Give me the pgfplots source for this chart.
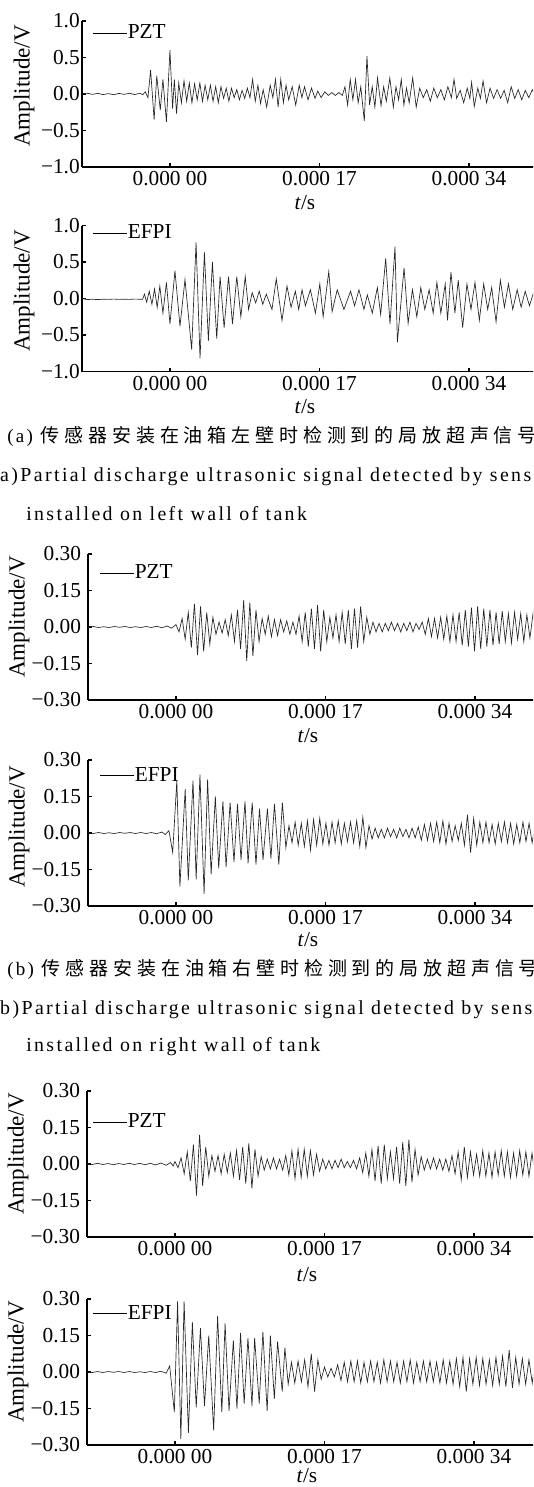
\documentclass[border=0pt]{standalone}
\usepackage{pgfplots}
\pgfplotsset{compat=1.18}
\usepackage{pgfplotstable}
\usepackage{fontspec}
\setmainfont{Liberation Serif}
\newfontfamily\capfont[LetterSpace=12]{Liberation Serif}
\newfontfamily\cjk[LetterSpace=25.5]{Noto Sans CJK SC}
\newcommand\fs{\fontsize{16}{18}\selectfont}
\newcommand\lfs{\fontsize{17.3}{19}\selectfont}
\newcommand\cfs{\fontsize{14.25}{16}\selectfont}
\newcommand\efs{\fontsize{14.9}{16}\selectfont}

% PZT (a)
\pgfplotstableread[row sep=\\]{x y\\
-100 0\\ -94 0.01\\ -88 -0.005\\ -82 0.008\\ -76 -0.008\\ -70 0.005\\ -64 -0.01\\ -58 0.008\\ -52 -0.005\\ -46 0.01\\ -40 -0.008\\ -34 0.01\\ -31 -0.01\\ -28 0.03\\ -25 -0.05\\ -22 0.33\\ -18 -0.35\\ -15 0.25\\ -11 -0.22\\ -8 0.2\\ -4 -0.38\\ 0 0.6\\ 3 -0.2\\ 5 0.2\\ 7.5 -0.27\\ 10 0.15\\ 13 -0.12\\ 16 0.18\\ 19 -0.1\\ 22 0.15\\ 25 -0.12\\ 28 0.14\\ 31 -0.08\\ 34 0.15\\ 37 -0.1\\ 40 0.12\\ 43 -0.08\\ 46 0.12\\ 49 -0.1\\ 52 0.1\\ 55 -0.12\\ 58 0.1\\ 61 -0.06\\ 64 0.08\\ 67 -0.1\\ 70 0.08\\ 73 -0.05\\ 76 0.06\\ 79 -0.08\\ 82 0.05\\ 85 -0.06\\ 88 0.08\\ 91 -0.05\\ 94 0.2\\ 97 -0.1\\ 100 0.12\\ 103 -0.13\\ 106 0.06\\ 110 -0.18\\ 114 0.12\\ 117 -0.05\\ 120 0.2\\ 123 -0.18\\ 126 0.2\\ 129 -0.12\\ 132 0.12\\ 135 -0.08\\ 139 0.1\\ 143 -0.15\\ 147 0.12\\ 150 -0.05\\ 153 0.1\\ 157 -0.08\\ 161 0.08\\ 165 -0.06\\ 168 0.04\\ 172 -0.05\\ 176 0.03\\ 180 -0.02\\ 184 0.02\\ 188 -0.02\\ 192 0.02\\ 196 -0.02\\ 199 0.1\\ 202 -0.15\\ 205 0.2\\ 208 -0.08\\ 211 0.2\\ 214 -0.12\\ 217 0.1\\ 221 -0.37\\ 224 0.52\\ 227 -0.15\\ 230 0.1\\ 233 -0.18\\ 236 0.22\\ 240 -0.16\\ 243 0.1\\ 246 -0.1\\ 250 0.22\\ 254 -0.18\\ 257 0.1\\ 260 -0.08\\ 263 0.2\\ 266 -0.15\\ 269 0.08\\ 272 -0.12\\ 276 0.22\\ 280 -0.18\\ 284 0.08\\ 288 -0.05\\ 292 0.06\\ 296 -0.1\\ 300 0.08\\ 304 -0.05\\ 308 0.06\\ 312 -0.08\\ 316 0.1\\ 320 -0.05\\ 323 0.2\\ 326 -0.06\\ 330 0.05\\ 334 -0.12\\ 338 0.08\\ 341 -0.06\\ 343 0.16\\ 346 -0.17\\ 350 0.08\\ 353 -0.06\\ 356 0.18\\ 360 -0.12\\ 364 0.08\\ 368 -0.06\\ 372 0.06\\ 376 -0.06\\ 380 0.05\\ 384 -0.12\\ 388 0.1\\ 392 -0.06\\ 396 0.06\\ 400 -0.08\\ 404 0.05\\ 408 -0.05\\ 412 0.06\\ 416 -0.04\\ 420 0.05\\
}\dA

% EFPI (a)
\pgfplotstableread[row sep=\\]{x y\\
-100 0\\ -94 -0.015\\ -88 -0.01\\ -82 -0.015\\ -76 -0.01\\ -70 -0.012\\ -64 -0.008\\ -58 -0.012\\ -52 -0.01\\ -46 -0.012\\ -40 -0.008\\ -34 -0.01\\ -31 -0.01\\ -29 0.06\\ -26.5 -0.05\\ -23.5 0.1\\ -20.5 -0.08\\ -17.5 0.13\\ -14.5 -0.12\\ -11.5 0.17\\ -8 -0.2\\ -4 0.22\\ 0 -0.35\\ 5.7 0.38\\ 11.4 -0.38\\ 17.1 0.26\\ 24.7 -0.7\\ 29.7 0.77\\ 34.2 -0.82\\ 39.2 0.63\\ 43.7 -0.58\\ 48.3 0.5\\ 53.2 -0.55\\ 57 0.3\\ 61.6 -0.4\\ 66.6 0.3\\ 71.1 -0.35\\ 76 0.3\\ 80.6 -0.25\\ 85.6 0.3\\ 89.4 -0.15\\ 93.5 0.08\\ 97.5 -0.06\\ 101.5 0.1\\ 105.5 -0.08\\ 109.5 0.06\\ 116 -0.15\\ 120.9 0.27\\ 127.4 -0.3\\ 133.1 0.17\\ 137.7 -0.12\\ 142.6 0.1\\ 146.4 -0.15\\ 150.2 0.12\\ 154 -0.1\\ 159.7 0.12\\ 165.4 -0.2\\ 170.4 0.2\\ 174.2 -0.25\\ 180.6 0.37\\ 184.4 -0.18\\ 190.2 0.12\\ 197.8 -0.15\\ 205.4 0.1\\ 209.9 -0.1\\ 214.9 0.12\\ 220.6 -0.15\\ 224.4 0.05\\ 230.1 -0.2\\ 235.8 0.15\\ 239.6 -0.22\\ 245.3 0.55\\ 250.2 -0.35\\ 255.9 0.71\\ 258.6 -0.6\\ 266.2 0.42\\ 270.8 -0.34\\ 275.7 0.12\\ 280.7 -0.25\\ 285.2 0.15\\ 289.8 -0.15\\ 294.7 0.12\\ 299.3 -0.2\\ 303.5 0.22\\ 308 -0.2\\ 313 0.2\\ 315.6 -0.3\\ 319.5 0.36\\ 324 -0.2\\ 327.8 0.25\\ 332.8 -0.4\\ 337.7 0.2\\ 342.3 -0.15\\ 346.8 0.22\\ 351.8 -0.3\\ 356.7 0.2\\ 361.3 -0.15\\ 365.8 0.15\\ 370.8 -0.32\\ 375.7 0.25\\ 380.3 -0.12\\ 384.9 0.2\\ 389.8 -0.15\\ 394.8 0.12\\ 399.3 -0.12\\ 403.9 0.1\\ 408.8 -0.1\\ 413.4 0.08\\ 418 -0.05\\
}\dB

% PZT (b)
\pgfplotstableread[row sep=\\]{x y\\
-100 0\\ -94 0.002\\ -88 -0.002\\ -82 0.001\\ -76 -0.002\\ -70 0.002\\ -64 -0.001\\ -58 0.002\\ -52 -0.002\\ -46 0.001\\ -40 -0.002\\ -34 0.002\\ -28 -0.002\\ -22 0.003\\ -16 -0.003\\ -10 0.004\\ -5 -0.005\\ 0 0.01\\ 3.5 -0.02\\ 7 0.035\\ 10.5 -0.05\\ 14 0.06\\ 17.5 -0.085\\ 21 0.095\\ 24.5 -0.115\\ 28 0.085\\ 31.5 -0.1\\ 35 0.06\\ 38.5 -0.07\\ 42 0.04\\ 45.5 -0.03\\ 49 0.02\\ 52.5 -0.025\\ 56 0.03\\ 59.5 -0.035\\ 63 0.05\\ 66.5 -0.06\\ 70 0.07\\ 73.5 -0.09\\ 77 0.11\\ 80.5 -0.14\\ 84 0.1\\ 87.5 -0.12\\ 91 0.07\\ 94.5 -0.06\\ 98 0.035\\ 101.5 -0.03\\ 105 0.045\\ 108.5 -0.04\\ 112 0.03\\ 115.5 -0.035\\ 119 0.03\\ 122.5 -0.02\\ 126 0.025\\ 129.5 -0.03\\ 133 0.02\\ 136.5 -0.03\\ 140 0.045\\ 143.5 -0.06\\ 147 0.06\\ 150.5 -0.08\\ 154 0.075\\ 157.5 -0.09\\ 161 0.09\\ 164.5 -0.1\\ 168 0.07\\ 171.5 -0.06\\ 175 0.04\\ 178.5 -0.045\\ 182 0.05\\ 185.5 -0.06\\ 189 0.06\\ 192.5 -0.07\\ 196 0.07\\ 199.5 -0.09\\ 203 0.075\\ 206.5 -0.085\\ 210 0.085\\ 213.5 -0.06\\ 217 0.04\\ 220.5 -0.03\\ 224 0.02\\ 227.5 -0.02\\ 231 0.015\\ 234.5 -0.02\\ 238 0.015\\ 241.5 -0.015\\ 245 0.02\\ 248.5 -0.015\\ 252 0.015\\ 255.5 -0.02\\ 259 0.015\\ 262.5 -0.015\\ 266 0.02\\ 269.5 -0.02\\ 273 0.015\\ 276.5 -0.01\\ 280 0.02\\ 283.5 -0.03\\ 287 0.035\\ 290.5 -0.04\\ 294 0.035\\ 297.5 -0.045\\ 301 0.04\\ 304.5 -0.05\\ 308 0.045\\ 311.5 -0.06\\ 315 0.05\\ 318.5 -0.06\\ 322 0.06\\ 325.5 -0.075\\ 329 0.07\\ 332.5 -0.08\\ 336 0.08\\ 339.5 -0.1\\ 343 0.085\\ 346.5 -0.09\\ 350 0.075\\ 353.5 -0.08\\ 357 0.07\\ 360.5 -0.075\\ 364 0.06\\ 367.5 -0.07\\ 371 0.065\\ 374.5 -0.06\\ 378 0.055\\ 381.5 -0.065\\ 385 0.06\\ 388.5 -0.05\\ 392 0.055\\ 395.5 -0.06\\ 399 0.05\\ 402.5 -0.045\\ 406 0.055\\ 409.5 -0.05\\ 413 0.045\\ 416.5 -0.05\\ 420 0.04\\
}\dC

% EFPI (b)
\pgfplotstableread[row sep=\\]{x y\\
-100 0\\ -94 -0.002\\ -88 0.002\\ -82 -0.002\\ -76 0.001\\ -70 -0.002\\ -64 0.002\\ -58 -0.001\\ -52 0.002\\ -46 -0.002\\ -40 0.002\\ -34 -0.002\\ -28 0.002\\ -22 -0.003\\ -16 0.004\\ -12 -0.006\\ -8 0.01\\ -3.7 -0.08\\ 1 0.215\\ 4.5 -0.22\\ 10.5 0.18\\ 14 -0.195\\ 19.4 0.215\\ 23 -0.19\\ 27.3 0.24\\ 32 -0.25\\ 36 0.22\\ 40 -0.17\\ 44.8 0.15\\ 48.6 -0.145\\ 53.4 0.13\\ 57 -0.14\\ 61.6 0.125\\ 66 -0.12\\ 70 0.12\\ 74 -0.11\\ 78.5 0.13\\ 82 -0.125\\ 86.7 0.125\\ 91 -0.13\\ 95 0.1\\ 99 -0.11\\ 104 0.1\\ 108 -0.105\\ 112 0.12\\ 117 -0.13\\ 121 0.125\\ 125 -0.06\\ 128.5 0.03\\ 132 -0.04\\ 135.5 0.045\\ 139 -0.05\\ 142.5 0.04\\ 146 -0.055\\ 149.5 0.05\\ 153 -0.07\\ 156.5 0.055\\ 160 -0.05\\ 163.5 0.06\\ 167 -0.045\\ 170.5 0.04\\ 174 -0.05\\ 177.5 0.045\\ 181 -0.04\\ 184.5 0.05\\ 188 -0.045\\ 191.5 0.04\\ 195 -0.035\\ 198.5 0.045\\ 202 -0.04\\ 205.5 0.05\\ 209 -0.055\\ 212.5 0.065\\ 216 -0.06\\ 219.5 0.03\\ 223 -0.025\\ 226.5 0.02\\ 230 -0.02\\ 233.5 0.015\\ 237 -0.02\\ 240.5 0.02\\ 244 -0.015\\ 247.5 0.015\\ 251 -0.02\\ 254.5 0.02\\ 258 -0.015\\ 261.5 0.015\\ 265 -0.02\\ 268.5 0.02\\ 272 -0.02\\ 275.5 0.025\\ 279 -0.03\\ 282.5 0.035\\ 286 -0.03\\ 289.5 0.04\\ 293 -0.035\\ 296.5 0.045\\ 300 -0.04\\ 303.5 0.05\\ 307 -0.045\\ 310.5 0.04\\ 314 -0.035\\ 317.5 0.03\\ 321 -0.03\\ 324.5 0.04\\ 328 -0.05\\ 331.5 0.075\\ 335 -0.08\\ 338.5 0.06\\ 342 -0.05\\ 345.5 0.045\\ 349 -0.04\\ 352.5 0.045\\ 356 -0.04\\ 359.5 0.035\\ 363 -0.045\\ 366.5 0.04\\ 370 -0.035\\ 373.5 0.045\\ 377 -0.04\\ 380.5 0.04\\ 384 -0.045\\ 387.5 0.035\\ 391 -0.04\\ 394.5 0.045\\ 398 -0.035\\ 401.5 0.04\\ 405 -0.04\\ 408.5 0.035\\ 412 -0.04\\ 415.5 0.04\\ 419 -0.035\\
}\dD

% PZT (c)
\pgfplotstableread[row sep=\\]{x y\\
-100 0\\ -94 -0.002\\ -88 0.003\\ -82 -0.002\\ -76 0.002\\ -70 -0.003\\ -64 0.002\\ -58 -0.002\\ -52 0.003\\ -46 -0.002\\ -40 0.003\\ -34 -0.003\\ -28 0.003\\ -22 -0.004\\ -16 0.004\\ -10 -0.005\\ -5 0.006\\ -2 -0.008\\ 0 0.01\\ 3.5 -0.015\\ 7 0.025\\ 10.5 -0.04\\ 14 0.05\\ 17.5 -0.07\\ 21 0.08\\ 24.5 -0.13\\ 28 0.12\\ 31.5 -0.09\\ 35 0.07\\ 38.5 -0.05\\ 42 0.035\\ 45.5 -0.03\\ 49 0.035\\ 52.5 -0.04\\ 56 0.04\\ 59.5 -0.035\\ 63 0.045\\ 66.5 -0.05\\ 70 0.055\\ 73.5 -0.065\\ 77 0.07\\ 80.5 -0.08\\ 84 0.085\\ 87.5 -0.1\\ 91 0.06\\ 94.5 -0.05\\ 98 0.03\\ 101.5 -0.025\\ 105 0.02\\ 108.5 -0.02\\ 112 0.025\\ 115.5 -0.02\\ 119 0.02\\ 122.5 -0.025\\ 126 0.035\\ 129.5 -0.045\\ 133 0.055\\ 136.5 -0.06\\ 140 0.06\\ 143.5 -0.055\\ 147 0.06\\ 150.5 -0.05\\ 154 0.055\\ 157.5 -0.045\\ 161 0.04\\ 164.5 -0.03\\ 168 0.02\\ 171.5 -0.02\\ 175 0.015\\ 178.5 -0.02\\ 182 0.015\\ 185.5 -0.015\\ 189 0.02\\ 192.5 -0.015\\ 196 0.01\\ 199.5 -0.015\\ 203 0.015\\ 206.5 -0.02\\ 210 0.025\\ 213.5 -0.035\\ 217 0.045\\ 220.5 -0.05\\ 224 0.06\\ 227.5 -0.07\\ 231 0.075\\ 234.5 -0.08\\ 238 0.08\\ 241.5 -0.06\\ 245 0.05\\ 248.5 -0.06\\ 252 0.07\\ 255.5 -0.08\\ 259 0.09\\ 262.5 -0.09\\ 266 0.1\\ 269.5 -0.075\\ 273 0.06\\ 276.5 -0.045\\ 280 0.03\\ 283.5 -0.025\\ 287 0.02\\ 290.5 -0.02\\ 294 0.025\\ 297.5 -0.02\\ 301 0.02\\ 304.5 -0.025\\ 308 0.02\\ 311.5 -0.03\\ 315 0.035\\ 318.5 -0.04\\ 322 0.05\\ 325.5 -0.065\\ 329 0.07\\ 332.5 -0.055\\ 336 0.05\\ 339.5 -0.045\\ 343 0.04\\ 346.5 -0.05\\ 350 0.055\\ 353.5 -0.05\\ 357 0.045\\ 360.5 -0.055\\ 364 0.05\\ 367.5 -0.045\\ 371 0.055\\ 374.5 -0.05\\ 378 0.05\\ 381.5 -0.055\\ 385 0.045\\ 388.5 -0.05\\ 392 0.055\\ 395.5 -0.045\\ 399 0.05\\ 402.5 -0.05\\ 406 0.045\\ 409.5 -0.05\\ 413 0.05\\ 416.5 -0.045\\ 420 0.04\\
}\dE

% EFPI (c)
\pgfplotstableread[row sep=\\]{x y\\
-100 0\\ -94 -0.002\\ -88 0.002\\ -82 -0.002\\ -76 0.002\\ -70 -0.001\\ -64 0.002\\ -58 -0.002\\ -52 0.002\\ -46 -0.002\\ -40 0.001\\ -34 -0.002\\ -28 0.002\\ -22 -0.002\\ -16 0.003\\ -10 -0.005\\ -6 0.025\\ -0.7 -0.165\\ 3 0.29\\ 6.7 -0.275\\ 10.4 0.29\\ 15.3 -0.25\\ 19.8 0.205\\ 24.2 -0.145\\ 29 0.18\\ 33.6 -0.14\\ 38.4 0.15\\ 44 -0.24\\ 48.5 0.23\\ 53.3 -0.165\\ 57 0.2\\ 61.5 -0.16\\ 66.4 0.13\\ 70.5 -0.15\\ 74.6 0.16\\ 78.7 -0.13\\ 83 0.14\\ 87.6 -0.14\\ 90.6 0.14\\ 95.8 -0.13\\ 100 0.165\\ 104.8 -0.16\\ 108.5 0.15\\ 113 -0.11\\ 116.7 0.125\\ 122 -0.08\\ 125 0.1\\ 128.75 -0.05\\ 132.5 0.04\\ 136.25 -0.045\\ 140 0.045\\ 143.75 -0.04\\ 147.5 0.05\\ 151.25 -0.06\\ 155 0.075\\ 158.75 -0.08\\ 162.5 0.05\\ 166.25 -0.03\\ 170 0.02\\ 173.75 -0.02\\ 177.5 0.015\\ 181.25 -0.02\\ 185 0.03\\ 188.75 -0.035\\ 192.5 0.04\\ 196.25 -0.04\\ 200 0.045\\ 203.75 -0.04\\ 207.5 0.045\\ 211.25 -0.045\\ 215 0.04\\ 218.75 -0.04\\ 222.5 0.045\\ 226.25 -0.04\\ 230 0.04\\ 233.75 -0.045\\ 237.5 0.05\\ 241.25 -0.04\\ 245 0.045\\ 248.75 -0.04\\ 252.5 0.04\\ 256.25 -0.045\\ 260 0.045\\ 263.75 -0.04\\ 267.5 0.05\\ 271.25 -0.045\\ 275 0.04\\ 278.75 -0.04\\ 282.5 0.045\\ 286.25 -0.04\\ 290 0.045\\ 293.75 -0.04\\ 297.5 0.04\\ 301.25 -0.045\\ 305 0.05\\ 308.75 -0.045\\ 312.5 0.045\\ 316.25 -0.05\\ 320 0.055\\ 323.75 -0.06\\ 327.5 0.06\\ 331.25 -0.08\\ 335 0.055\\ 338.75 -0.05\\ 342.5 0.06\\ 346.25 -0.055\\ 350 0.055\\ 353.75 -0.05\\ 357.5 0.05\\ 361.25 -0.055\\ 365 0.06\\ 368.75 -0.05\\ 372.5 0.065\\ 376.25 -0.06\\ 380 0.09\\ 383.75 -0.065\\ 387.5 0.06\\ 391.25 -0.05\\ 395 0.055\\ 398.75 -0.05\\ 402.5 0.05\\ 406.25 -0.045\\ 410 0.05\\ 413.75 -0.05\\ 417.5 0.045\\ 421.25 -0.04\\
}\dF

\pgfplotsset{
  sig/.style={
    scale only axis, width=343pt, height=109.5pt,
    xmin=-100, xmax=420,
    axis x line*=bottom, axis y line*=left,
    axis line style={-, line width=0.9pt, black},
    xtick={0,170,340}, xticklabels={0.000 00,0.000 17,0.000 34},
    tick align=inside, major tick length=3pt,
    tick style={black, line width=0.9pt},
    tick label style={font=\fs},
    legend style={draw=none, fill=none, inner sep=0pt, outer sep=0pt,
      anchor=west, font=\fs, nodes={inner sep=0pt}},
    legend cell align=left,
    legend image code/.code={\draw[black, line width=0.65pt] (0pt,0pt) -- (25.5pt,0pt);},
    anchor=south west,
  },
  big/.style={ymin=-1, ymax=1, ytick={-1,-0.5,0,0.5,1},
    yticklabels={−1.0,−0.5,0.0,0.5,1.0}, yticklabel style={inner xsep=1.5pt}},
  small/.style={ymin=-0.3, ymax=0.3, ytick={-0.3,-0.15,0,0.15,0.3},
    yticklabels={−0.30,−0.15,0.00,0.15,0.30}, yticklabel style={inner xsep=5pt}},
  sigline/.style={black!85, line width=0.5pt},
}

\begin{document}
\begin{tikzpicture}
\useasboundingbox (0pt,0pt) rectangle (399.75pt,-1115.25pt);
\clip (0pt,0pt) rectangle (399.75pt,-1115.25pt);

\begin{axis}[sig, big, at={(61.5pt,-125.25pt)},
  legend style={at={(axis description cs:0.024,0.918)}}]
\addplot[sigline] table[x=x,y=y]{\dA};
\addlegendentry{PZT}
\end{axis}

\begin{axis}[sig, big, at={(61.5pt,-278.625pt)},
  legend style={at={(axis description cs:0.024,0.949)}}]
\addplot[sigline] table[x=x,y=y]{\dB};
\addlegendentry{EFPI}
\end{axis}

\begin{axis}[sig, small, at={(66pt,-525pt)},
  legend style={at={(axis description cs:0.026,0.87)}}]
\addplot[sigline] table[x=x,y=y]{\dC};
\addlegendentry{PZT}
\end{axis}

\begin{axis}[sig, small, at={(66pt,-679.5pt)},
  legend style={at={(axis description cs:0.026,0.897)}}]
\addplot[sigline] table[x=x,y=y]{\dD};
\addlegendentry{EFPI}
\end{axis}

\begin{axis}[sig, small, at={(65.25pt,-927.75pt)},
  legend style={at={(axis description cs:0.013,0.788)}}]
\addplot[sigline] table[x=x,y=y]{\dE};
\addlegendentry{PZT}
\end{axis}

\begin{axis}[sig, small, at={(65.25pt,-1083.75pt)},
  legend style={at={(axis description cs:0.013,0.904)}}]
\addplot[sigline] table[x=x,y=y]{\dF};
\addlegendentry{EFPI}
\end{axis}

\begin{scope}[x=0.75pt,y=-0.75pt]
% y labels
\node[rotate=90, anchor=west, font=\lfs, inner sep=0pt] at (24,147) {Amplitude/V};
\node[rotate=90, anchor=west, font=\lfs, inner sep=0pt] at (24,352) {Amplitude/V};
\node[rotate=90, anchor=west, font=\lfs, inner sep=0pt] at (19,678) {Amplitude/V};
\node[rotate=90, anchor=west, font=\lfs, inner sep=0pt] at (19,888) {Amplitude/V};
\node[rotate=90, anchor=west, font=\lfs, inner sep=0pt] at (18,1215) {Amplitude/V};
\node[rotate=90, anchor=west, font=\lfs, inner sep=0pt] at (18,1423) {Amplitude/V};
% x labels
\node[font=\fs, inner sep=0pt] at (305,203) {\textit{t}/s};
\node[font=\fs, inner sep=0pt] at (305,407) {\textit{t}/s};
\node[font=\fs, inner sep=0pt] at (308,736) {\textit{t}/s};
\node[font=\fs, inner sep=0pt] at (308,940) {\textit{t}/s};
\node[font=\fs, inner sep=0pt] at (307,1275) {\textit{t}/s};
\node[font=\fs, inner sep=0pt] at (307,1476) {\textit{t}/s};
% captions
\node[anchor=west, inner sep=0pt, font=\cfs] at (7,436) {\capfont (a)\kern6pt\cjk 传感器安装在油箱左壁时检测到的局放超声信号};
\node[anchor=west, inner sep=0pt, font=\efs] at (-9,477) {\capfont (a)Partial discharge ultrasonic signal detected by sensor};
\node[anchor=west, inner sep=0pt, font=\efs] at (26,514) {\capfont installed on left wall of tank};
\node[anchor=west, inner sep=0pt, font=\cfs] at (7,969) {\capfont (b)\kern6pt\cjk 传感器安装在油箱右壁时检测到的局放超声信号};
\node[anchor=west, inner sep=0pt, font=\efs] at (-9,1010) {\capfont (b)Partial discharge ultrasonic signal detected by sensor};
\node[anchor=west, inner sep=0pt, font=\efs] at (26,1047) {\capfont installed on right wall of tank};
\end{scope}
\end{tikzpicture}
\end{document}
